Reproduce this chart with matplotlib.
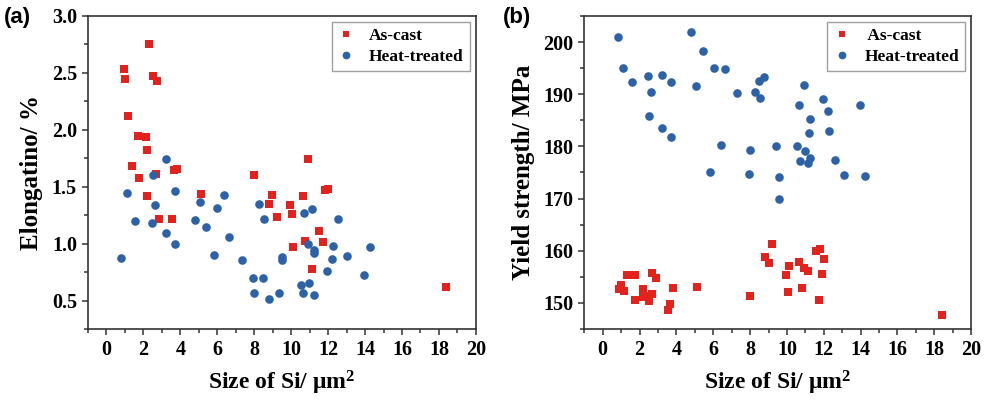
"""Elongation and yield strength vs. Si particle size, as-cast vs heat-treated."""

import numpy as np
import matplotlib
matplotlib.use("Agg")
import matplotlib.pyplot as plt
from matplotlib.ticker import MultipleLocator

plt.rcParams["font.family"] = ["Liberation Serif", "DejaVu Serif"]
plt.rcParams["font.weight"] = "bold"
plt.rcParams["mathtext.fontset"] = "custom"
plt.rcParams["mathtext.rm"] = "Liberation Serif:bold"

# ---- (a) elongation ----
a_cast_x = [2.33, 0.94, 1.01, 2.51, 2.71, 1.16, 1.73, 2.15, 2.19, 1.36, 1.77, 2.67,
            3.65, 3.81, 10.93, 7.98, 11.83, 11.98, 2.22, 5.11, 8.98, 10.66, 8.82,
            9.96, 10.05, 9.21, 2.85, 3.54, 11.53, 10.77, 11.73, 10.10, 11.11, 18.39]
a_cast_y = [2.75, 2.535, 2.45, 2.47, 2.43, 2.125, 1.945, 1.935, 1.82, 1.68, 1.575, 1.61,
            1.643, 1.658, 1.74, 1.60, 1.47, 1.476, 1.415, 1.44, 1.43, 1.415, 1.345,
            1.342, 1.263, 1.234, 1.22, 1.22, 1.11, 1.026, 1.015, 0.974, 0.78, 0.62]

a_heat_x = [3.22, 2.51, 1.10, 3.69, 6.38, 5.04, 2.64, 6.00, 8.26, 11.11, 10.71, 1.57,
            2.46, 4.81, 8.53, 12.56, 5.40, 3.20, 6.65, 3.70, 10.91, 12.29, 14.25,
            11.24, 11.22, 12.23, 13.04, 0.78, 5.82, 7.32, 9.52, 9.52, 11.96, 13.95,
            7.91, 8.47, 10.51, 10.95, 7.98, 9.34, 10.62, 11.22, 8.78]
a_heat_y = [1.745, 1.60, 1.447, 1.46, 1.43, 1.37, 1.336, 1.316, 1.35, 1.30, 1.27, 1.20,
            1.18, 1.205, 1.213, 1.216, 1.149, 1.096, 1.06, 0.994, 0.994, 0.976, 0.971,
            0.945, 0.915, 0.868, 0.895, 0.874, 0.90, 0.854, 0.883, 0.854, 0.763, 0.728,
            0.699, 0.70, 0.64, 0.655, 0.567, 0.567, 0.564, 0.55, 0.517]

# ---- (b) yield strength ----
b_cast_x = [9.21, 11.56, 11.81, 8.81, 9.01, 11.99, 10.67, 10.13, 10.94, 11.12, 9.97,
            11.92, 1.34, 1.77, 2.70, 2.88, 0.98, 0.91, 1.14, 2.17, 2.17, 2.37, 2.66,
            2.53, 1.74, 3.82, 3.67, 3.55, 5.12, 8.01, 10.08, 10.80, 11.74, 18.42]
b_cast_y = [161.2, 159.9, 160.3, 158.8, 157.7, 158.4, 157.9, 157.0, 156.6, 156.1, 155.4,
            155.5, 155.4, 155.4, 155.8, 154.8, 153.5, 152.6, 152.2, 152.6, 151.1, 151.3,
            151.7, 150.3, 150.5, 152.8, 149.8, 148.7, 153.0, 151.4, 152.1, 152.8, 150.5,
            147.6]

b_heat_x = [0.81, 4.81, 5.43, 1.09, 6.02, 6.64, 1.57, 2.48, 3.22, 3.69, 2.64, 5.07,
            8.50, 8.77, 7.31, 8.27, 8.56, 10.94, 11.98, 10.64, 13.98, 12.23, 11.25,
            2.52, 3.20, 3.69, 11.22, 12.28, 6.40, 8.01, 9.39, 10.55, 10.96, 11.23,
            10.71, 11.12, 12.59, 5.84, 7.94, 9.55, 13.10, 14.25, 9.55]
b_heat_y = [200.9, 201.9, 198.2, 195.0, 195.1, 194.8, 192.4, 193.5, 193.7, 192.3, 190.4,
            191.6, 192.5, 193.3, 190.2, 190.4, 189.2, 191.8, 189.1, 188.0, 187.9, 186.7,
            185.3, 185.8, 183.6, 181.9, 182.6, 183.0, 180.3, 179.4, 180.1, 180.1, 179.1,
            177.8, 177.2, 176.9, 177.4, 175.0, 174.7, 174.1, 174.5, 174.3, 170.0]

RED = "#e3211d"
BLUE = "#2e62a6"
XLABEL = r"Size of Si/ $\mathregular{\mu m^2}$"


def style_axis(ax, ymajor, yminor):
    ax.set_xlim(-1, 20)
    ax.xaxis.set_major_locator(MultipleLocator(2))
    ax.xaxis.set_minor_locator(MultipleLocator(1))
    ax.yaxis.set_major_locator(MultipleLocator(ymajor))
    ax.yaxis.set_minor_locator(MultipleLocator(yminor))
    ax.tick_params(which="both", direction="out", top=False, right=False,
                   labelsize=14.5, width=1.1, color="#333333")
    ax.tick_params(which="major", length=4.5)
    ax.tick_params(which="minor", length=3)
    for sp in ax.spines.values():
        sp.set_linewidth(1.2)
        sp.set_color("#333333")
    for lab in ax.get_xticklabels() + ax.get_yticklabels():
        lab.set_fontweight("bold")
    ax.set_xlabel(XLABEL, fontsize=17, fontweight="bold", labelpad=6)


def add_legend(ax):
    leg = ax.legend(loc="upper right", fontsize=12.5, frameon=True, fancybox=False,
                    edgecolor="#888888", borderaxespad=0.35, handlelength=1.0,
                    handletextpad=0.8, borderpad=0.35, labelspacing=0.25,
                    markerscale=0.9)
    leg.get_frame().set_linewidth(1.0)
    return leg


fig = plt.figure(figsize=(9.92, 4.0), dpi=100)
ax1 = fig.add_axes([0.0887, 0.1775, 0.391, 0.7825])
ax2 = fig.add_axes([0.589, 0.1775, 0.390, 0.7825])

ms_sq, ms_ci = 5.2, 6.2

ax1.plot(a_cast_x, a_cast_y, "s", color=RED, markersize=ms_sq, markeredgewidth=0,
         label="As-cast")
ax1.plot(a_heat_x, a_heat_y, "o", color=BLUE, markersize=ms_ci, markeredgewidth=0,
         label="Heat-treated")
ax1.set_ylim(0.25, 3.0)
style_axis(ax1, 0.5, 0.25)
ax1.yaxis.set_major_formatter(matplotlib.ticker.FormatStrFormatter("%.1f"))
ax1.set_ylabel("Elongatino/ %", fontsize=18, fontweight="bold", labelpad=6)
add_legend(ax1)

ax2.plot(b_cast_x, b_cast_y, "s", color=RED, markersize=ms_sq, markeredgewidth=0,
         label=" As-cast")
ax2.plot(b_heat_x, b_heat_y, "o", color=BLUE, markersize=ms_ci, markeredgewidth=0,
         label="Heat-treated")
ax2.set_ylim(145, 205)
style_axis(ax2, 10, 5)
ax2.set_ylabel("Yield strength/ MPa", fontsize=18, fontweight="bold", labelpad=6)
add_legend(ax2)

fig.text(0.004, 0.955, "(a)", fontsize=16, fontweight="bold",
         family=["Liberation Sans", "DejaVu Sans"], va="center")
fig.text(0.507, 0.955, "(b)", fontsize=16, fontweight="bold",
         family=["Liberation Sans", "DejaVu Sans"], va="center")

fig.savefig("out.png", dpi=100, facecolor="white")
plt.close(fig)
